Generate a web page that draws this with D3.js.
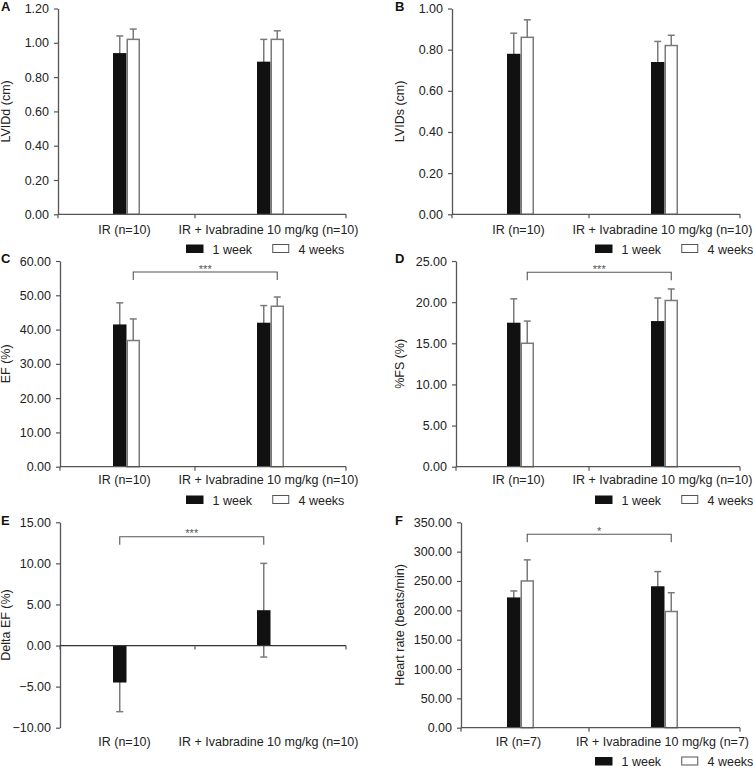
<!DOCTYPE html>
<html><head><meta charset="utf-8">
<script src="https://cdn.jsdelivr.net/npm/d3@7"></script>
<style>
body{margin:0;background:#fff}
text{font-family:"Liberation Sans",Arial,Helvetica,sans-serif}
</style>
</head><body>
<svg id="chart" width="753" height="768"></svg>
<script>
// ---------- DATA ----------
const groupsN10 = ["IR (n=10)", "IR + Ivabradine 10 mg/kg (n=10)"];
const groupsN7 = ["IR (n=7)", "IR + Ivabradine 10 mg/kg (n=7)"];
const seriesNames = ["1 week", "4 weeks"];

const lviddWeek1 = [0.94, 0.89];
const lviddWeek1Sd = [0.10, 0.13];
const lviddWeek4 = [1.02, 1.02];
const lviddWeek4Sd = [0.06, 0.05];
const lviddTicks = [0, 0.2, 0.4, 0.6, 0.8, 1.0, 1.2];

const lvidsWeek1 = [0.78, 0.74];
const lvidsWeek1Sd = [0.10, 0.10];
const lvidsWeek4 = [0.86, 0.82];
const lvidsWeek4Sd = [0.085, 0.05];
const lvidsTicks = [0, 0.2, 0.4, 0.6, 0.8, 1.0];

const efWeek1 = [41.5, 42.0];
const efWeek1Sd = [6.3, 5.0];
const efWeek4 = [36.8, 46.8];
const efWeek4Sd = [6.3, 2.7];
const efTicks = [0, 10, 20, 30, 40, 50, 60];

const fsWeek1 = [17.5, 17.7];
const fsWeek1Sd = [2.9, 2.8];
const fsWeek4 = [15.0, 20.2];
const fsWeek4Sd = [2.7, 1.4];
const fsTicks = [0, 5, 10, 15, 20, 25];

const deltaEf = [-4.5, 4.3];
const deltaEfSd = [3.55, 5.7];
const deltaEfTicks = [-10, -5, 0, 5, 10, 15];

const hrWeek1 = [222, 241];
const hrWeek1Sd = [11, 25];
const hrWeek4 = [250, 198];
const hrWeek4Sd = [36, 32];
const hrTicks = [0, 50, 100, 150, 200, 250, 300, 350];

// ---------- LAYOUT ----------
const svg = d3.select("#chart");
const fmt = d3.format(".2f");
const AXIS = "#555";

const left = {xEnd: 346, mid: 195, centers: [127, 271], titleX: 10, letterX: 1, legendX: 186};
const right = {xEnd: 740, mid: 589, centers: [521, 665], titleX: 404, letterX: 395, legendX: 595};
const rows = [
  {yTop: 8.5, yBottom: 214.3, labelY: 233.5, legendY: 253.5, letterY: 11},
  {yTop: 261, yBottom: 466.7, labelY: 483.5, legendY: 504.5, letterY: 263},
  {yTop: 522.3, yBottom: 727.7, labelY: 746, legendY: 766, letterY: 525}
];
const labelShift = -2.5;

const panels = [
  {letter: "A", col: left, row: rows[0], x0: 58, title: "LVIDd (cm)", groups: groupsN10, ticks: lviddTicks,
   series: [{name: seriesNames[0], v: lviddWeek1, sd: lviddWeek1Sd}, {name: seriesNames[1], v: lviddWeek4, sd: lviddWeek4Sd}],
   legend: true},
  {letter: "B", col: right, row: rows[0], x0: 452, title: "LVIDs (cm)", groups: groupsN10, ticks: lvidsTicks,
   series: [{name: seriesNames[0], v: lvidsWeek1, sd: lvidsWeek1Sd}, {name: seriesNames[1], v: lvidsWeek4, sd: lvidsWeek4Sd}],
   legend: true},
  {letter: "C", col: left, row: rows[1], x0: 60, title: "EF (%)", groups: groupsN10, ticks: efTicks,
   series: [{name: seriesNames[0], v: efWeek1, sd: efWeek1Sd}, {name: seriesNames[1], v: efWeek4, sd: efWeek4Sd}],
   legend: true, sig: {series: seriesNames[1], y: 272, label: "***"}},
  {letter: "D", col: right, row: rows[1], x0: 456, title: "%FS (%)", groups: groupsN10, ticks: fsTicks,
   series: [{name: seriesNames[0], v: fsWeek1, sd: fsWeek1Sd}, {name: seriesNames[1], v: fsWeek4, sd: fsWeek4Sd}],
   legend: true, sig: {series: seriesNames[1], y: 272.3, label: "***"}},
  {letter: "E", col: left, row: rows[2], x0: 60, title: "Delta EF (%)", groups: groupsN10, ticks: deltaEfTicks,
   series: [{name: seriesNames[0], v: deltaEf, sd: deltaEfSd}],
   legend: false, sig: {series: seriesNames[0], y: 536.7, label: "***"}},
  {letter: "F", col: right, row: rows[2], x0: 461, title: "Heart rate (beats/min)", groups: groupsN7, ticks: hrTicks,
   series: [{name: seriesNames[0], v: hrWeek1, sd: hrWeek1Sd}, {name: seriesNames[1], v: hrWeek4, sd: hrWeek4Sd}],
   legend: true, sig: {series: seriesNames[1], y: 534.3, label: "*"}}
];

const fills = {"1 week": "#111", "4 weeks": "#fff"};
const strokes = {"1 week": "#111", "4 weeks": "#7a7a7a"};
const sub = d3.scaleBand().domain(seriesNames).range([-14, 13]);

panels.forEach(p => {
  const g = svg.append("g");
  const col = p.col, row = p.row;
  const y = d3.scaleLinear().domain([p.ticks[0], p.ticks[p.ticks.length - 1]]).range([row.yBottom, row.yTop]);
  const x = d3.scalePoint().domain(p.groups).range(col.centers);
  const base = y(Math.max(0, p.ticks[0]));

  // panel letter
  g.append("text").attr("x", col.letterX).attr("y", row.letterY)
    .attr("font-size", 13).attr("font-weight", "bold").attr("fill", "#111").text(p.letter);

  // y axis
  const ya = g.append("g").attr("transform", `translate(${p.x0},0)`)
    .call(d3.axisLeft(y).tickValues(p.ticks).tickFormat(fmt).tickSize(4).tickSizeOuter(0).tickPadding(5));
  ya.select(".domain").attr("stroke", AXIS).attr("stroke-width", 1.3);
  ya.selectAll(".tick line").attr("stroke", AXIS).attr("stroke-width", 1.2);
  ya.selectAll(".tick text").attr("font-size", 12.5).attr("fill", "#222")
    .attr("font-family", "Liberation Sans, Arial, sans-serif");

  // y title
  g.append("text")
    .attr("transform", `translate(${col.titleX},${(row.yTop + row.yBottom) / 2}) rotate(-90)`)
    .attr("text-anchor", "middle").attr("font-size", 12.5).attr("fill", "#222").text(p.title);

  // error bars (drawn first, bars on top)
  p.series.forEach(s => {
    s.v.forEach((v, i) => {
      const xc = x(p.groups[i]) + sub(s.name) + sub.bandwidth() / 2;
      const hi = y(v + s.sd[i]), lo = y(v - s.sd[i]);
      g.append("line").attr("x1", xc).attr("x2", xc).attr("y1", hi).attr("y2", lo)
        .attr("stroke", "#7a7a7a").attr("stroke-width", 1.5);
      [hi, lo].forEach(yy => g.append("line").attr("x1", xc - 3.5).attr("x2", xc + 3.5)
        .attr("y1", yy).attr("y2", yy).attr("stroke", "#7a7a7a").attr("stroke-width", 1.5));
    });
  });

  // bars
  p.series.forEach(s => {
    s.v.forEach((v, i) => {
      const bx = x(p.groups[i]) + sub(s.name);
      const top = Math.min(y(v), y(0)), h = Math.abs(y(v) - y(0));
      const white = s.name === seriesNames[1];
      g.append("rect")
        .attr("x", white ? bx + 0.75 : bx).attr("y", top)
        .attr("width", white ? sub.bandwidth() - 1.5 : sub.bandwidth()).attr("height", h)
        .attr("fill", fills[s.name]).attr("stroke", white ? strokes[s.name] : "none")
        .attr("stroke-width", 1.5);
    });
  });

  // x axis line with ticks
  g.append("line").attr("x1", p.x0).attr("x2", col.xEnd).attr("y1", base).attr("y2", base)
    .attr("stroke", p.ticks[0] < 0 ? "#333" : AXIS).attr("stroke-width", 1.3);
  [p.x0, col.mid, col.xEnd].forEach(tx => g.append("line")
    .attr("x1", tx).attr("x2", tx).attr("y1", base).attr("y2", base + 4)
    .attr("stroke", AXIS).attr("stroke-width", 1.2));

  // category labels
  p.groups.forEach(gname => g.append("text").attr("x", x(gname) + labelShift).attr("y", row.labelY)
    .attr("text-anchor", "middle").attr("font-size", 12.5).attr("fill", "#222").text(gname));

  // significance bracket
  if (p.sig) {
    const xa = x(p.groups[0]) + sub(p.sig.series) + sub.bandwidth() / 2;
    const xb = x(p.groups[1]) + sub(p.sig.series) + sub.bandwidth() / 2;
    const sy = p.sig.y;
    g.append("path").attr("d", `M${xa},${sy + 8}V${sy}H${xb}V${sy + 8}`)
      .attr("fill", "none").attr("stroke", "#555").attr("stroke-width", 1.1);
    g.append("text").attr("x", (xa + xb) / 2).attr("y", sy + 0.5).attr("text-anchor", "middle")
      .attr("font-size", 11).attr("fill", "#555").text(p.sig.label);
  }

  // legend
  if (p.legend) {
    const lg = g.append("g").attr("transform", `translate(${col.legendX},${row.legendY})`);
    const lx = d3.scalePoint().domain(seriesNames).range([0, 86]);
    seriesNames.forEach(n => {
      const white = n === seriesNames[1];
      lg.append("rect").attr("x", lx(n) + (white ? 0.75 : 0)).attr("y", -9)
        .attr("width", white ? 16 : 17.5).attr("height", white ? 8 : 8.5)
        .attr("fill", fills[n]).attr("stroke", white ? "#555" : "none").attr("stroke-width", 1);
      lg.append("text").attr("x", lx(n) + 26.5).attr("y", 0).attr("font-size", 12.5)
        .attr("fill", "#222").text(n);
    });
  }
});
</script>
</body></html>
